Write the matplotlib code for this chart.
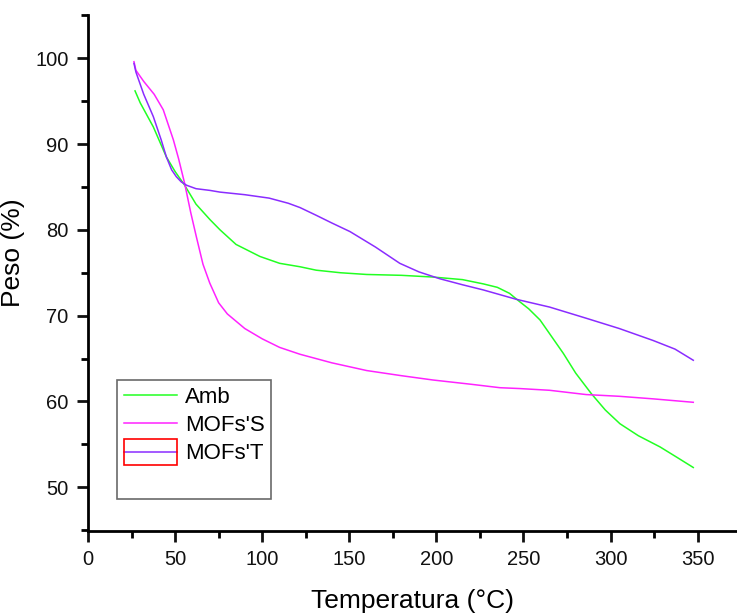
import matplotlib
matplotlib.use("Agg")
import matplotlib.pyplot as plt
from matplotlib.lines import Line2D
from matplotlib.patches import Rectangle

plt.rcParams['font.family'] = ['Liberation Sans', 'DejaVu Sans']

amb_x = [27, 30, 37.5, 45, 50, 55.5, 62, 70, 75.8, 85, 98.7, 110, 121.7, 131, 145, 160, 180, 198, 215, 227,
         235, 242, 248, 253, 259.5, 265, 272.9, 280, 289, 297, 305.4, 316, 328.4, 338, 347.5]
amb_y = [96.2, 94.8, 92.0, 88.5, 86.8, 85.2, 83.0, 81.2, 80.0, 78.3, 76.9, 76.1, 75.7, 75.3, 75.0, 74.8, 74.7,
         74.5, 74.2, 73.7, 73.3, 72.6, 71.6, 70.8, 69.5, 67.9, 65.6, 63.3, 60.9, 59.0, 57.4, 56.0, 54.7, 53.5, 52.3]

mofs_s_x = [26.4, 27.5, 32, 38, 43.2, 49, 52, 55.5, 59, 62.2, 66, 69.9, 75, 80, 90, 100, 110, 121.7, 140, 160,
            180, 198, 220, 236.5, 248, 265, 286, 305, 324.5, 347.5]
mofs_s_y = [99.6, 98.6, 97.3, 95.8, 94.0, 90.5, 88.3, 85.4, 82.0, 79.2, 76.0, 73.8, 71.5, 70.2, 68.5, 67.3, 66.3,
            65.5, 64.5, 63.6, 63.0, 62.5, 62.0, 61.6, 61.5, 61.3, 60.8, 60.6, 60.3, 59.9]

mofs_t_x = [26.4, 27.5, 32, 37.5, 42, 45, 48, 50.7, 53.5, 56.6, 62, 70, 75.8, 90, 104, 115, 121.7, 131, 140,
            150.4, 165, 179, 190, 202, 215, 226.9, 246, 265, 286, 305, 324.5, 337, 347.5]
mofs_t_y = [99.4, 98.4, 95.8, 93.2, 90.5, 88.5, 87.0, 86.2, 85.6, 85.2, 84.8, 84.6, 84.4, 84.1, 83.7, 83.1, 82.6,
            81.7, 80.8, 79.8, 78.0, 76.1, 75.1, 74.3, 73.6, 73.0, 71.9, 71.0, 69.7, 68.5, 67.1, 66.1, 64.8]

labels = ["Amb", "MOFs'S", "MOFs'T"]
colors = ["#22ff22", "#ff22ff", "#8a2cff"]
x_ticks = [0, 50, 100, 150, 200, 250, 300, 350]
y_ticks = [50, 60, 70, 80, 90, 100]

fig = plt.figure(figsize=(7.37, 6.13), dpi=100)
ax = fig.add_axes([0.1194, 0.1338, 0.8806, 0.8418])

series = [(amb_x, amb_y), (mofs_s_x, mofs_s_y), (mofs_t_x, mofs_t_y)]
handles = []
for (xs, ys), lab, c in zip(series, labels, colors):
    h, = ax.plot(xs, ys, color=c, lw=1.1, label=lab)
    handles.append(h)

ax.set_xlim(0, 372.6)
ax.set_ylim(44.9, 105.05)
ax.set_xticks(x_ticks)
ax.set_yticks(y_ticks)
ax.set_xticks([25, 75, 125, 175, 225, 275, 325], minor=True)
ax.set_yticks([45, 55, 65, 75, 85, 95, 105], minor=True)
ax.tick_params(which='major', direction='out', length=8, width=2, labelsize=14.5, pad=6, colors='#111111')
ax.tick_params(which='minor', direction='out', length=5, width=2)
for s in ['top', 'right']:
    ax.spines[s].set_visible(False)
for s in ['left', 'bottom']:
    ax.spines[s].set_linewidth(2)

ax.set_xlabel("Temperatura (°C)", fontsize=19, labelpad=14)
ax.set_ylabel("Peso (%)", fontsize=19)
ax.yaxis.set_label_coords(-0.097, 0.54)

blank = Line2D([], [], color='none')
leg = ax.legend(handles + [blank], labels + [' '], loc='upper left',
                bbox_to_anchor=(0.0447, 0.2926, 0.2373, 0.0), mode='expand',
                fontsize=16, frameon=True, fancybox=False, edgecolor='#444444',
                handlelength=2.4, handletextpad=0.35, labelspacing=0.33, borderpad=0.3,
                borderaxespad=0)
leg.get_frame().set_linewidth(1.2)

fig.canvas.draw()
hl = leg.legend_handles[2]
bb = hl.get_window_extent(fig.canvas.get_renderer())
inv = fig.transFigure.inverted()
(x0, y0), (x1, y1) = inv.transform([[bb.x0, (bb.y0 + bb.y1) / 2 - 13], [bb.x1, (bb.y0 + bb.y1) / 2 + 13]])
fig.patches.append(Rectangle((x0, y0), x1 - x0, y1 - y0, transform=fig.transFigure,
                             fill=False, edgecolor='red', lw=1.2, zorder=10))

fig.savefig("out.png", dpi=100)
